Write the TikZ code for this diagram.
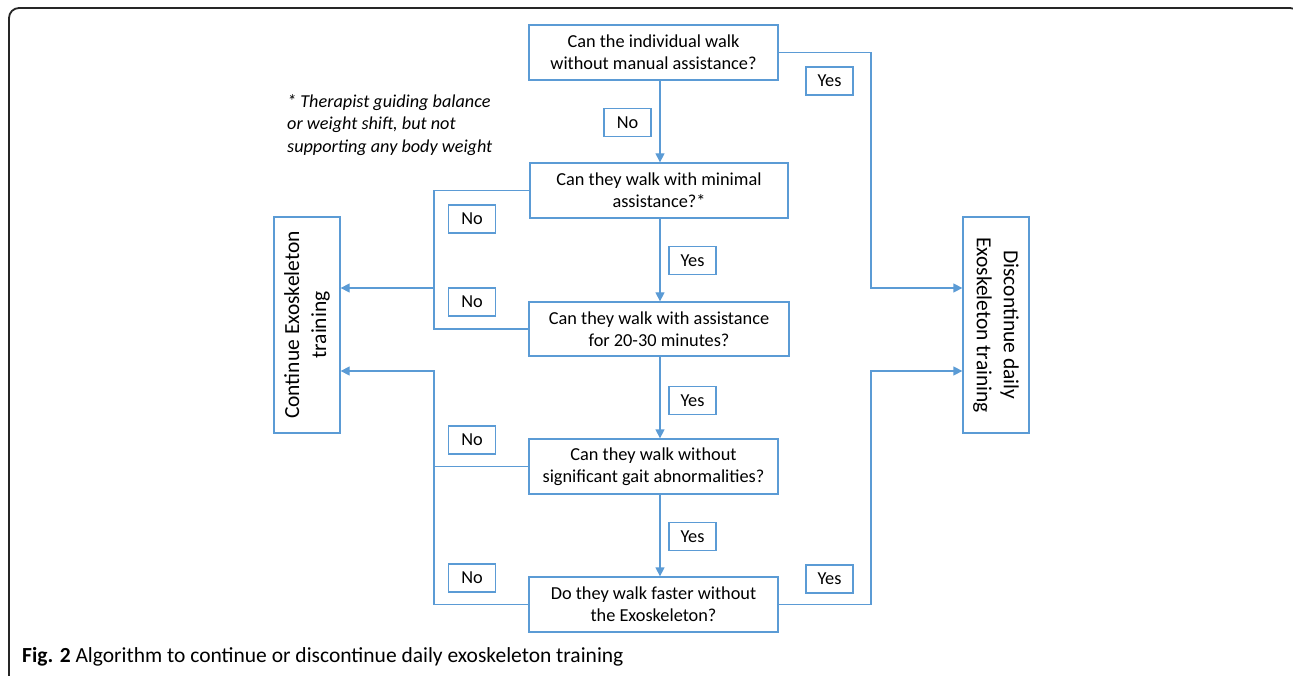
\documentclass[tikz,border=0pt]{standalone}
\usepackage{fontspec}
\setmainfont{Carlito}
\usetikzlibrary{arrows.meta, positioning, calc}
\definecolor{flowblue}{RGB}{91,155,213}
\tikzstyle{arrow} = [flowblue, line width=1.3pt, -{Triangle[length=9pt, width=9pt]}]

\begin{document}
\begin{tikzpicture}[x=1pt, y=-1pt,
	question/.style={rectangle, draw=flowblue, line width=1.3pt, minimum width=249pt, minimum height=55pt, inner sep=0pt, font=\fontsize{18.3}{22}\selectfont, align=center},
	answer/.style={rectangle, draw=flowblue, line width=1.1pt, minimum width=47pt, minimum height=28pt, inner sep=0pt, font=\fontsize{18.3}{22}\selectfont},
	outcome/.style={rectangle, draw=flowblue, line width=1.3pt, minimum width=216pt, minimum height=66pt, inner sep=0pt, font=\fontsize{21.5}{27}\selectfont, align=center},
	link/.style={flowblue, line width=1.3pt}
]
\useasboundingbox (0,0) rectangle (1293,676);

% Frame
\draw[black!85, line width=1.8pt, rounded corners=10pt] (9,700) -- (9,8) -- (1300,8) -- (1300,60);

% Questions
\node[question] (q1) at (653.5,52.5) {Can the individual walk\\without manual assistance?};
\node[question, minimum width=258pt] (q2) at (659,190.5) {Can they walk with minimal\\assistance?*};
\node[question, minimum width=260pt, minimum height=54pt] (q3) at (659,329) {Can they walk with assistance\\for 20-30 minutes?};
\node[question] (q4) at (653.5,466.5) {Can they walk without\\significant gait abnormalities?};
\node[question] (q5) at (653.5,604.5) {Do they walk faster without\\the Exoskeleton?};

% Outcomes
\node[outcome, rotate=90] (cont) at (307,325) {Continue Exoskeleton\\training};
\node[outcome, rotate=-90] (disc) at (996,325) {Discontinue daily\\Exoskeleton training};

% Footnote
\node[anchor=north west, inner sep=0pt, align=left, font=\itshape\fontsize{18.2}{22.5}\selectfont] (note) at (287,94)
	{* Therapist guiding balance\\or weight shift, but not\\supporting any body weight};

% Answers
\node[answer] (no1) at (627.5,122.5) {No};
\node[answer] (yes1) at (829.5,81) {Yes};
\node[answer] (no2) at (472,219) {No};
\node[answer] (no3) at (472,302) {No};
\node[answer] (yes2) at (692.5,260.5) {Yes};
\node[answer] (yes3) at (692.5,400.5) {Yes};
\node[answer] (no4) at (472,440) {No};
\node[answer] (yes4) at (692.5,536.5) {Yes};
\node[answer] (no5) at (472,578) {No};
\node[answer] (yes5) at (829.5,579) {Yes};

% Guide lines
\coordinate (spine) at (660,0);
\coordinate (lft) at (434,0);
\coordinate (rgt) at (871,0);
\coordinate (upper) at (0,288);
\coordinate (lower) at (0,371);

% Down the middle
\draw[arrow] (q1.south -| spine) -- (q2.north -| spine);
\draw[arrow] (q2.south -| spine) -- (q3.north -| spine);
\draw[arrow] (q3.south -| spine) -- (q4.north -| spine);
\draw[arrow] (q4.south -| spine) -- (q5.north -| spine);

% Left side: continue
\draw[link] (q2.west) -| (lft |- q3.west) -- (q3.west);
\draw[arrow] (lft |- upper) -- (cont.south |- upper);
\draw[link] (q4.west) -- (lft |- q4.west);
\draw[arrow] (q5.west) -| (lft |- lower) -- (cont.south |- lower);

% Right side: discontinue
\draw[arrow] (q1.east) -| (rgt |- upper) -- (disc.south |- upper);
\draw[arrow] (q5.east) -| (rgt |- lower) -- (disc.south |- lower);

% Caption
\node[anchor=base west, inner sep=0pt, font=\fontsize{21.5}{25}\selectfont] (caption) at (22,662)
	{\textbf{Fig. 2} Algorithm to continue or discontinue daily exoskeleton training};

\end{tikzpicture}
\end{document}
